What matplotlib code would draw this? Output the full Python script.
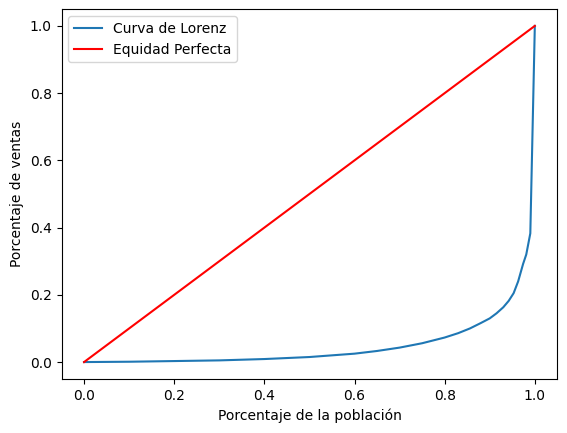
import matplotlib
matplotlib.use("Agg")
import matplotlib.pyplot as plt

# Curva de Lorenz
poblacion = [0.0, 0.1, 0.2, 0.3, 0.4, 0.5, 0.6, 0.65, 0.7, 0.75, 0.8, 0.83,
             0.856, 0.88, 0.9, 0.915, 0.93, 0.942, 0.953, 0.963, 0.974,
             0.981, 0.986, 0.99, 1.0]
ventas = [0.0, 0.001, 0.003, 0.005, 0.009, 0.015, 0.025, 0.033, 0.043, 0.056,
          0.073, 0.086, 0.100, 0.116, 0.130, 0.145, 0.163, 0.182, 0.205,
          0.24, 0.292, 0.320, 0.355, 0.383, 1.0]

# Linea de equidad perfecta
equidad = [0.0, 1.0]

fig = plt.figure(figsize=(5.67, 4.33), dpi=100)
ax = fig.add_axes([0.1085, 0.125, 0.8745, 0.854])

ax.plot(poblacion, ventas, label='Curva de Lorenz')
ax.plot(equidad, equidad, color='red', label='Equidad Perfecta')

ax.set_xlabel('Porcentaje de la población')
ax.set_ylabel('Porcentaje de ventas')
ax.legend(loc='upper left')

plt.savefig('out.png', dpi=100)
